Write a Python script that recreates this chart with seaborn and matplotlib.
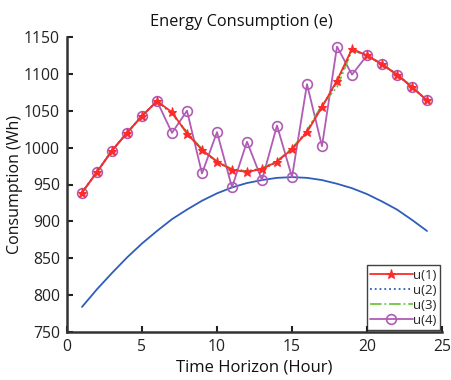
import numpy as np
import pandas as pd
import matplotlib
matplotlib.use("Agg")
import matplotlib.pyplot as plt
import seaborn as sns

hours = list(range(1, 25))
u1 = [939, 967, 996, 1020, 1043, 1063, 1048, 1019, 997, 981, 970, 967,
      971, 981, 998, 1021, 1055, 1091, 1134, 1125, 1113, 1099, 1082, 1064]
u2 = [939, 967, 996, 1020, 1043, 1063, 1047, 1020, 997, 980, 970, 968,
      971, 980, 998, 1022, 1056, 1089, 1133, 1125, 1113, 1099, 1082, 1064]
u3 = [939, 967, 996, 1020, 1043, 1063, 1046, 1021, 998, 981, 971, 968,
      972, 982, 999, 1023, 1058, 1082, 1132, 1125, 1113, 1099, 1083, 1064]
u4 = [939, 967, 996, 1020, 1043, 1063, 1020, 1050, 965, 1021, 946, 1008,
      956, 1030, 960, 1086, 1002, 1137, 1099, 1125, 1113, 1099, 1082, 1064]
base = [784, 808, 830, 851, 870, 887, 903, 916, 928, 938, 946, 952,
        956, 959, 960, 959, 956, 951, 945, 937, 927, 916, 902, 887]

xticks = [0, 5, 10, 15, 20, 25]
yticks = [750, 800, 850, 900, 950, 1000, 1050, 1100, 1150]

df = pd.DataFrame({"hour": hours, "u1": u1, "u2": u2, "u3": u3, "u4": u4, "base": base})

sns.set_theme(style="white")
plt.rcParams["font.family"] = ["Open Sans", "DejaVu Sans"]

fig = plt.figure(figsize=(4.51, 3.80), dpi=100)
ax = fig.add_axes([67/451, 1-332/380, 375/451, 295/380])

sns.lineplot(data=df, x="hour", y="base", ax=ax, color="#2F5DBA", lw=1.3, label="_nolegend_", zorder=2)
sns.lineplot(data=df, x="hour", y="u4", ax=ax, color="#B05CB5", lw=1.3, marker="o",
             markersize=7, markerfacecolor="none", markeredgecolor="#B05CB5",
             markeredgewidth=1.2, label="u(4)", zorder=3)
sns.lineplot(data=df, x="hour", y="u3", ax=ax, color="#6CC83A", lw=1.3, linestyle="-.", label="u(3)", zorder=4)
sns.lineplot(data=df, x="hour", y="u2", ax=ax, color="#2F5DBA", lw=1.3, linestyle=":", label="u(2)", zorder=4)
sns.lineplot(data=df, x="hour", y="u1", ax=ax, color="#FF2A2A", lw=1.3, marker="*",
             markersize=6.5, markeredgecolor="#FF2A2A", markeredgewidth=0.8, label="u(1)", zorder=5)

ax.set_xlim(0, 25)
ax.set_ylim(750, 1150)
ax.set_xticks(xticks)
ax.set_yticks(yticks)
ax.tick_params(direction="in", length=4, width=1.5, labelsize=11.3, colors="#222222",
               bottom=True, left=True, pad=5)
for s in ["top", "right"]:
    ax.spines[s].set_visible(False)
for s in ["left", "bottom"]:
    ax.spines[s].set_color("#333333")
    ax.spines[s].set_linewidth(1.8)

ax.set_xlabel("Time Horizon (Hour)", fontsize=12, color="#111111", labelpad=3)
ax.set_ylabel("Consumption (Wh)", fontsize=11.5, color="#111111", labelpad=1)
ax.set_title("Energy Consumption (e)", fontsize=11.8, color="#111111", x=(241-67)/375, pad=8)

handles, labels = ax.get_legend_handles_labels()
order = [labels.index(l) for l in ["u(1)", "u(2)", "u(3)", "u(4)"]]
leg = ax.legend([handles[i] for i in order], [labels[i] for i in order],
                loc="lower right", bbox_to_anchor=(1.0, 0.0), frameon=True, fancybox=False,
                edgecolor="#111111", fontsize=9.5, handlelength=3.2, handletextpad=0.05,
                borderpad=0.25, labelspacing=0.15, borderaxespad=0.15)
leg.get_frame().set_linewidth(1.0)

fig.savefig("out.png", dpi=100)
